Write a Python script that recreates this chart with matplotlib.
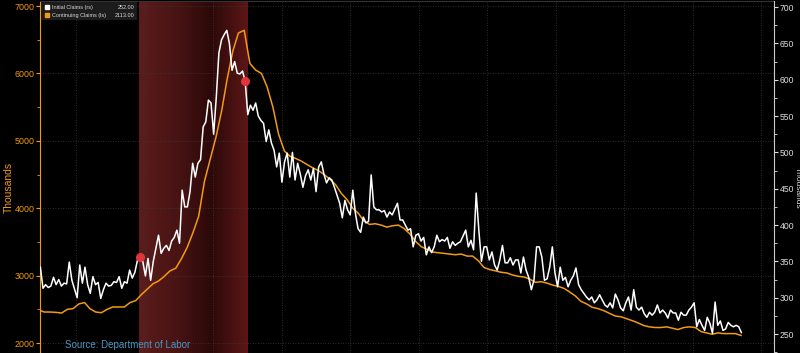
import numpy as np
import pandas as pd
import matplotlib
matplotlib.use('Agg')
import matplotlib.pyplot as plt
import matplotlib.dates as mdates
from matplotlib.colors import LinearSegmentedColormap
from matplotlib.ticker import MultipleLocator
from matplotlib.patches import Rectangle

plt.rcParams['font.family'] = ['Liberation Sans', 'DejaVu Sans']

# %% DATA (thousands)

# initial claims, every 2 weeks from 2006-06-24 (right axis)
initial_claims = [
    # 2006
    342, 313, 318, 314, 316, 328, 318, 325, 316, 320, 319, 349, 324, 312,
    # 2007
    300, 345, 320, 342, 318, 306, 329, 318, 321, 299, 311, 320, 316, 317, 322, 321, 329, 313, 322, 320, 338, 327, 335, 352, 356, 350,
    # 2008
    330, 354, 324, 350, 368, 386, 361, 368, 372, 365, 378, 383, 393, 375, 448, 425, 425, 446, 485, 466, 485, 490, 535, 542, 572, 568,
    # 2009
    525, 576, 637, 655, 662, 668, 650, 613, 625, 609, 608, 612, 598, 552, 565, 558, 568, 550, 544, 540, 515, 531, 513, 503, 480, 499,
    # 2010
    459, 487, 499, 466, 500, 462, 485, 470, 452, 468, 476, 462, 478, 446, 480, 487, 470, 458, 465, 462, 452, 441, 430, 410, 434, 421,
    # 2011
    414, 448, 416, 395, 390, 411, 403, 405, 469, 425, 421, 421, 418, 420, 411, 418, 414, 422, 430, 407, 407, 400, 393, 395, 370, 386,
    # 2012
    388, 378, 383, 359, 370, 362, 370, 386, 377, 380, 378, 383, 368, 377, 372, 375, 377, 385, 393, 370, 379, 366, 444, 393, 350, 370,
    # 2013
    370, 352, 363, 345, 338, 352, 372, 348, 348, 355, 345, 352, 352, 334, 356, 338, 328, 311, 324, 370, 370, 356, 324, 326, 342, 370,
    # 2014
    334, 315, 342, 324, 328, 315, 324, 330, 341, 318, 311, 306, 301, 297, 301, 293, 297, 304, 297, 290, 287, 293, 286, 305, 297, 286,
    # 2015
    282, 293, 301, 283, 311, 287, 283, 287, 278, 273, 280, 276, 280, 290, 279, 283, 279, 272, 283, 279, 279, 269, 280, 276, 276, 283,
    # 2016
    287, 293, 260, 270, 262, 255, 273, 265, 251, 294, 262, 268, 255, 257, 266, 262, 260, 262, 260, 252,
]

# continuing claims, monthly from Jun 2006 (left axis)
continuing_claims = [
    2490, 2460, 2460, 2455, 2445, 2500, 2510,
    2580, 2600, 2510, 2460, 2450, 2500, 2535, 2535, 2535, 2600, 2630, 2720,
    2800, 2880, 2920, 2990, 3070, 3110, 3250, 3420, 3640, 3880, 4400, 4720,
    5050, 5450, 5900, 6330, 6600, 6640, 6150, 6050, 6000, 5800, 5500, 5100,
    4850, 4770, 4740, 4700, 4650, 4600, 4560, 4500, 4430, 4350, 4220, 4130,
    4000, 3920, 3810, 3760, 3770, 3750, 3720, 3740, 3750, 3700, 3620, 3510,
    3430, 3390, 3350, 3340, 3330, 3320, 3310, 3320, 3290, 3290, 3220, 3120,
    3090, 3070, 3050, 3040, 3010, 2990, 2980, 2950, 2900, 2910, 2890, 2860,
    2840, 2810, 2760, 2700, 2620, 2580, 2530, 2510, 2480, 2440, 2400, 2390,
    2360, 2330, 2300, 2260, 2240, 2230, 2230, 2240, 2220, 2200, 2230, 2240,
    2230, 2170, 2150, 2130, 2150, 2140, 2140, 2140, 2113,
]

ic_dates = pd.date_range('2006-06-24', periods=len(initial_claims), freq='14D')
cc_dates = pd.date_range('2006-06-01', periods=len(continuing_claims), freq='MS') + pd.Timedelta(days=14)

rec_start = pd.Timestamp('2007-12-01')
rec_end = pd.Timestamp('2009-06-30')

ORANGE = '#f29a12'
LEFT_LIM = (1852, 7074)
RIGHT_LIM = (223.9, 708.3)

# %% PLOT

fig = plt.figure(figsize=(8, 3.53), dpi=100, facecolor='black')
ax = fig.add_axes([0.05, 0.0, 0.9175, 0.997])
ax.set_facecolor('black')
ax2 = ax.twinx()

ax.plot(cc_dates, continuing_claims, color=ORANGE, lw=1.1, zorder=3)
ax2.plot(ic_dates, initial_claims, color='white', lw=1.1, zorder=3)

# recession shading with the darker middle
cmap = LinearSegmentedColormap.from_list('rec', ['#5c1c1c', '#4a1414', '#2c0909', '#5c1616'])
grad = np.linspace(0, 1, 256).reshape(1, -1)
ax.imshow(grad, cmap=cmap, aspect='auto', zorder=0,
          extent=[mdates.date2num(rec_start), mdates.date2num(rec_end), LEFT_LIM[0], LEFT_LIM[1]])

# recession markers on the initial claims line (last point inside the shading)
ic = np.array(initial_claims)
for d in (rec_start + pd.Timedelta(days=21), rec_end):
    i = np.searchsorted(ic_dates, d) - 1
    ax2.plot(ic_dates[i], ic[i], 'o', color='#e0353c', markersize=5.5, zorder=5)

ax.set_xlim(pd.Timestamp('2006-06-22'), pd.Timestamp('2017-03-10'))
ax.set_ylim(*LEFT_LIM)
ax2.set_ylim(*RIGHT_LIM)

ax.xaxis.set_major_locator(mdates.YearLocator())
ax.tick_params(axis='x', which='both', bottom=False, labelbottom=False)
ax.yaxis.set_major_locator(MultipleLocator(1000))
ax.yaxis.set_minor_locator(MultipleLocator(500))
ax2.yaxis.set_major_locator(MultipleLocator(50))
ax2.yaxis.set_minor_locator(MultipleLocator(25))

ax.grid(True, which='major', color='#3a3a3a', linestyle=(0, (1, 2)), lw=0.6)

ax.tick_params(axis='y', which='major', colors=ORANGE, labelsize=6.4, length=3, width=0.8, pad=1)
ax.tick_params(axis='y', which='minor', colors=ORANGE, length=2, width=0.6)
ax2.tick_params(axis='y', which='major', colors='#dddddd', labelsize=6.2, length=3, width=0.8, pad=1)
ax2.tick_params(axis='y', which='minor', colors='#dddddd', length=2, width=0.6)

for s in ('bottom', 'right'):
    ax.spines[s].set_visible(False)
ax.spines['left'].set_color(ORANGE)
ax.spines['top'].set_color('#333333')
for s in ('bottom', 'left', 'top'):
    ax2.spines[s].set_visible(False)
ax2.spines['right'].set_color('#cccccc')

ax.set_ylabel('Thousands', color=ORANGE, fontsize=7.5, va='center')
ax.yaxis.set_label_coords(-0.042, 0.47)
ax2.set_ylabel('Thousands', color='#dddddd', fontsize=6, rotation=270, va='center')
ax2.yaxis.set_label_coords(1.0315, 0.47)

# legend box
ax2.add_patch(Rectangle((0.0014, 0.946), 0.131, 0.051, transform=ax2.transAxes,
                        facecolor='#1c1c1c', edgecolor='none', zorder=6, clip_on=False))
rows = [('Initial Claims (rs)', initial_claims[-1], 'white', 0.982),
        ('Continuing Claims (ls)', continuing_claims[-1], ORANGE, 0.960)]
for name, val, col, yy in rows:
    ax2.plot(0.0095, yy, 's', color=col, markersize=3.2, transform=ax2.transAxes, zorder=7, clip_on=False)
    ax2.text(0.0165, yy, name, transform=ax2.transAxes, fontsize=4.0, color='#d8d8d8',
             va='center', ha='left', zorder=7)
    ax2.text(0.128, yy, f'{val:.2f}', transform=ax2.transAxes, fontsize=4.0, color='#d8d8d8',
             va='center', ha='right', zorder=7)

fig.text(0.081, 0.022, 'Source: Department of Labor', fontsize=7, color='#4b95c0', va='center', ha='left')

fig.savefig('out.png', dpi=100, facecolor='black')
